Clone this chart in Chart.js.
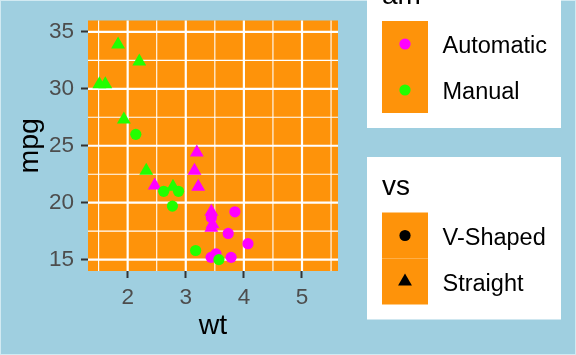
<!DOCTYPE html>
<html>
<head>
<meta charset="utf-8">
<script src="https://cdn.jsdelivr.net/npm/chart.js@4/dist/chart.umd.min.js"></script>
<style>
  html, body { margin: 0; padding: 0; background: #9FCFE0; }
  #wrap { position: relative; width: 576px; height: 355px; }
  canvas { display: block; }
</style>
</head>
<body>
<div id="wrap"><canvas id="c" width="576" height="355"></canvas></div>
<script>
// ---- data (mtcars, wt vs mpg, mpg limited to 15..35) ----
const xTicks = [2, 3, 4, 5];
const yTicks = [15, 20, 25, 30, 35];
const xMinor = [1.5, 2.5, 3.5, 4.5, 5.5];
const yMinor = [17.5, 22.5, 27.5, 32.5];

const amLabels = ['Automatic', 'Manual'];
const vsLabels = ['V-Shaped', 'Straight'];

// Automatic, V-Shaped
const wtAutoV  = [3.440, 4.070, 3.730, 3.780, 3.520, 3.435, 3.845];
const mpgAutoV = [18.7, 16.4, 17.3, 15.2, 15.5, 15.2, 19.2];
// Automatic, Straight
const wtAutoS  = [3.215, 3.460, 3.190, 3.150, 3.440, 3.440, 2.465];
const mpgAutoS = [21.4, 18.1, 24.4, 22.8, 19.2, 17.8, 21.5];
// Manual, V-Shaped
const wtManV   = [2.620, 2.875, 2.140, 3.170, 2.770, 3.570];
const mpgManV  = [21.0, 21.0, 26.0, 15.8, 19.7, 15.0];
// Manual, Straight
const wtManS   = [2.320, 2.200, 1.615, 1.835, 1.935, 1.513, 2.780];
const mpgManS  = [22.8, 32.4, 30.4, 33.9, 27.3, 30.4, 21.4];

// full wt range of the data set (incl. rows dropped by the mpg limits)
const wtRange = [1.513, 5.424];
const mpgLimits = [15, 35];

// ---- styling ----
const COL_AUTO = '#FF00FF';
const COL_MAN = '#22FF00';
const PANEL = '#FE930A';
const BG = '#9FCFE0';
const FONT = '"Liberation Sans", Arial, Helvetica, sans-serif';
const R_CIRC = 5.6;
const R_TRI = 8;

function pts(xs, ys) { return xs.map((x, i) => ({ x: x, y: ys[i] })); }

const xPad = (wtRange[1] - wtRange[0]) * 0.05;
const yPad = (mpgLimits[1] - mpgLimits[0]) * 0.05;

function mk(label, xs, ys, color, style) {
  return {
    label: label,
    data: pts(xs, ys),
    pointStyle: style,
    pointRadius: style === 'triangle' ? R_TRI : R_CIRC,
    pointHoverRadius: style === 'triangle' ? R_TRI : R_CIRC,
    backgroundColor: color,
    borderColor: color,
    borderWidth: 0,
    showLine: false
  };
}

// dataset index 0 is drawn on top in Chart.js
const datasets = [
  mk('Manual V-Shaped', wtManV, mpgManV, COL_MAN, 'circle'),
  mk('Manual Straight', wtManS, mpgManS, COL_MAN, 'triangle'),
  mk('Automatic Straight', wtAutoS, mpgAutoS, COL_AUTO, 'triangle'),
  mk('Automatic V-Shaped', wtAutoV, mpgAutoV, COL_AUTO, 'circle')
];

function drawShape(ctx, style, x, y, color) {
  ctx.save();
  ctx.fillStyle = color;
  ctx.beginPath();
  if (style === 'triangle') {
    const r = R_TRI;
    ctx.moveTo(x, y - r);
    ctx.lineTo(x + r * Math.sin(2 * Math.PI / 3), y + r / 2);
    ctx.lineTo(x - r * Math.sin(2 * Math.PI / 3), y + r / 2);
    ctx.closePath();
  } else {
    ctx.arc(x, y, R_CIRC, 0, Math.PI * 2);
  }
  ctx.fill();
  ctx.restore();
}

const panelPlugin = {
  id: 'panel',
  beforeDraw(chart) {
    const ctx = chart.ctx;
    ctx.save();
    ctx.fillStyle = BG;
    ctx.fillRect(0, 0, chart.width, chart.height);
    ctx.strokeStyle = '#D2EAF2';
    ctx.lineWidth = 1;
    ctx.strokeRect(0.5, 0.5, chart.width - 1, chart.height - 1);
    ctx.restore();
  },
  beforeDatasetsDraw(chart) {
    const ctx = chart.ctx, a = chart.chartArea;
    const xs = chart.scales.x, ys = chart.scales.y;
    ctx.save();
    ctx.fillStyle = PANEL;
    ctx.fillRect(a.left, a.top, a.right - a.left, a.bottom - a.top);
    ctx.strokeStyle = '#FFFFFF';
    ctx.lineWidth = 1.1;
    ctx.beginPath();
    xMinor.forEach(v => { const p = xs.getPixelForValue(v); ctx.moveTo(p, a.top); ctx.lineTo(p, a.bottom); });
    yMinor.forEach(v => { const p = ys.getPixelForValue(v); ctx.moveTo(a.left, p); ctx.lineTo(a.right, p); });
    ctx.stroke();
    ctx.lineWidth = 2.2;
    ctx.beginPath();
    xTicks.forEach(v => { const p = xs.getPixelForValue(v); ctx.moveTo(p, a.top); ctx.lineTo(p, a.bottom); });
    yTicks.forEach(v => { const p = ys.getPixelForValue(v); ctx.moveTo(a.left, p); ctx.lineTo(a.right, p); });
    ctx.stroke();
    ctx.restore();
  },
  afterDraw(chart) {
    const ctx = chart.ctx;
    const boxX = 367, boxW = 194, keyX = 382, keyW = 46, keyH = 46;
    const legends = [
      { title: 'am', top: -34.5, keyTop: 21, items: amLabels.map((t, i) => ({ text: t, style: 'circle', color: [COL_AUTO, COL_MAN][i] })) },
      { title: 'vs', top: 157, keyTop: 212.5, items: vsLabels.map((t, i) => ({ text: t, style: ['circle', 'triangle'][i], color: '#000000' })) }
    ];
    ctx.save();
    legends.forEach(L => {
      ctx.fillStyle = '#FFFFFF';
      ctx.fillRect(boxX, L.top, boxW, 162.5);
      ctx.fillStyle = '#000000';
      ctx.font = '28px ' + FONT;
      ctx.textAlign = 'left';
      ctx.textBaseline = 'alphabetic';
      ctx.fillText(L.title, keyX, L.keyTop - 17.5);
      L.items.forEach((it, i) => {
        const ky = L.keyTop + i * keyH;
        ctx.fillStyle = PANEL;
        ctx.fillRect(keyX, ky, keyW, keyH);
        drawShape(ctx, it.style, keyX + keyW / 2, ky + keyH / 2, it.color);
        ctx.fillStyle = '#000000';
        ctx.font = '23.5px ' + FONT;
        ctx.textBaseline = 'alphabetic';
        ctx.fillText(it.text, 442.5, ky + keyH / 2 + 9.4);
      });
    });
    ctx.restore();
  }
};

new Chart(document.getElementById('c'), {
  type: 'scatter',
  data: { datasets: datasets },
  plugins: [panelPlugin],
  options: {
    responsive: false,
    devicePixelRatio: 1,
    animation: false,
    events: [],
    layout: { padding: { left: 0, top: 14, right: 238, bottom: 0 } },
    plugins: { legend: { display: false }, tooltip: { enabled: false } },
    scales: {
      x: {
        type: 'linear',
        min: wtRange[0] - xPad,
        max: wtRange[1] + xPad,
        afterBuildTicks: s => { s.ticks = xTicks.map(v => ({ value: v })); },
        afterFit: s => { s.height = 84; },
        ticks: { color: '#4D4D4D', font: { family: FONT, size: 22.5 }, padding: 6, maxRotation: 0, autoSkip: false },
        grid: { drawOnChartArea: false, drawTicks: true, tickLength: 7, tickWidth: 2, tickColor: '#333333' },
        border: { display: false },
        title: { display: true, text: 'wt', color: '#000000', font: { family: FONT, size: 28.5, lineHeight: 1 }, padding: { top: 0, bottom: 15 } }
      },
      y: {
        type: 'linear',
        min: mpgLimits[0] - yPad,
        max: mpgLimits[1] + yPad,
        afterBuildTicks: s => { s.ticks = yTicks.map(v => ({ value: v })); },
        afterFit: s => { s.width = 88; },
        ticks: { color: '#4D4D4D', font: { family: FONT, size: 22.5 }, padding: 7, autoSkip: false },
        grid: { drawOnChartArea: false, drawTicks: true, tickLength: 7, tickWidth: 2, tickColor: '#333333' },
        border: { display: false },
        title: { display: true, text: 'mpg', color: '#000000', font: { family: FONT, size: 28.5, lineHeight: 1 }, padding: { top: 16, bottom: 0 } }
      }
    }
  }
});
</script>
</body>
</html>
